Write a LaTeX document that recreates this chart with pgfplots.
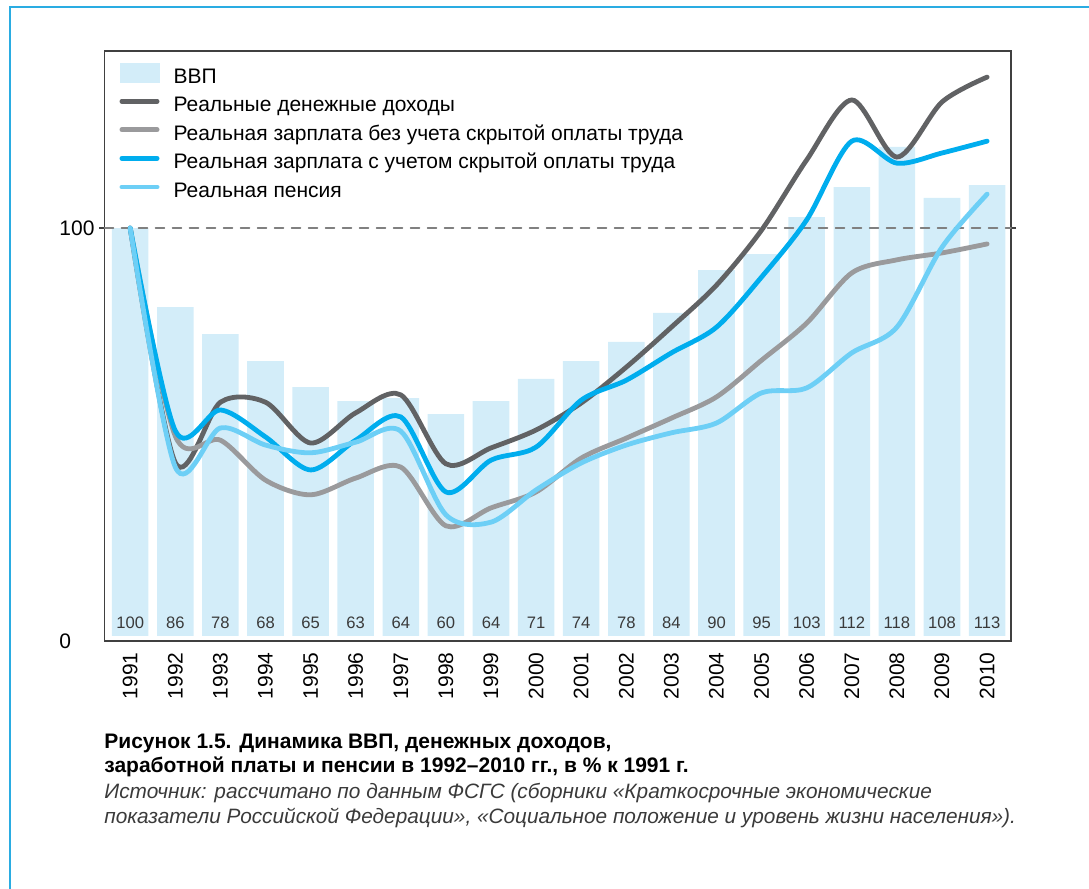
\documentclass[border=0pt]{standalone}
\usepackage{fontspec}
\setmainfont{Liberation Sans}
\usepackage{pgfplots}
\pgfplotsset{compat=1.18}
\usepackage{pgfplotstable}

\definecolor{barblue}{HTML}{D3EDF9}
\definecolor{cdark}{HTML}{616264}
\definecolor{cmid}{HTML}{9A9A9C}
\definecolor{cblue}{HTML}{00ADEE}
\definecolor{clight}{HTML}{6DCFF6}
\definecolor{frameblue}{HTML}{2AACE2}
\definecolor{axgray}{HTML}{404040}
\definecolor{labgray}{HTML}{3A3A3A}

% bar = drawn height, lab = printed value
\pgfplotstableread{
idx lab bar   dark  mid   blue  light
0   100 100   100   100   100   100
1   86  80.6  42.5  49.0  50.3  41.4
2   78  74.0  57.3  48.0  55.4  51.0
3   68  67.4  57.3  38.2  48.8  46.8
4   65  61.0  47.3  34.6  40.7  44.9
5   63  57.6  54.7  38.7  48.0  47.5
6   64  58.3  59.1  41.4  53.7  50.2
7   60  54.4  42.2  27.0  35.3  29.7
8   64  57.6  46.1  31.4  43.1  27.9
9   71  63.0  50.5  35.3  46.3  35.8
10  74  67.4  57.1  43.6  57.8  42.4
11  78  72.1  65.9  48.5  62.7  46.8
12  84  79.2  75.7  53.4  69.4  49.8
13  90  89.7  86.0  58.6  75.7  52.2
14  95  93.6  99.5  67.6  88.0  59.6
15  103 102.7 116.7 76.7  102.0 60.8
16  112 110.0 131.4 89.0  121.3 69.4
17  118 119.9 117.4 92.2  115.9 75.7
18  108 107.4 130.9 93.9  118.4 95.3
19  113 110.5 137.0 96.1  121.3 108.3
}\datatable

\begin{document}
\begin{tikzpicture}[x=0.5pt,y=0.5pt]
\useasboundingbox (0,0) rectangle (1089,889);
\draw[frameblue, line width=0.8pt] (10,0) -- (10,882) -- (1089,882);

\begin{axis}[
    at={(52.25pt,124pt)}, anchor=south west,
    width=453.25pt, height=295pt, scale only axis,
    xmin=-0.57, xmax=19.53,
    ymin=-1.23, ymax=143.4,
    axis line style={draw=axgray, line width=0.75pt},
    xtick={0,...,19},
    xticklabels={1991,1992,1993,1994,1995,1996,1997,1998,1999,2000,
                 2001,2002,2003,2004,2005,2006,2007,2008,2009,2010},
    xtick style={draw=none},
    xticklabel style={rotate=90, anchor=east, inner xsep=5.5pt, inner ysep=0pt,
                      font=\fontsize{10.5}{12}\selectfont},
    ytick={100}, yticklabels={100},
    ytick align=outside,
    ytick style={draw=axgray, line width=0.6pt},
    major tick length=2.5pt,
    extra y ticks={-1.23}, extra y tick labels={0},
    extra y tick style={major tick length=0pt, yticklabel style={xshift=-2.5pt}},
    yticklabel style={anchor=east, text width=17.6pt, align=left, inner sep=0pt,
                      xshift=-2.2pt, font=\fontsize{10.5}{12}\selectfont},
    legend cell align=left,
    legend style={at={(0,1)}, anchor=north west, xshift=6.1pt, yshift=-5.6pt,
                  draw=none, fill=none, inner sep=0pt, row sep=3.9pt,
                  font=\fontsize{10.5}{12.6}\selectfont,
                  nodes={inner ysep=0pt, text height=7.8pt, text depth=2.6pt}},
    clip=false,
]
\addplot[ybar, bar width=0.81, fill=barblue, draw=none,
    legend image code/.code={\fill[barblue] (0pt,-2.3pt) rectangle (20pt,7.7pt);
                             \path (23.8pt,0pt);}]
    table[x=idx, y=bar] {\datatable};
\addlegendentry{ВВП}

\addplot[forget plot, draw=none, mark=none, nodes near coords,
    point meta=explicit symbolic,
    every node near coord/.append style={anchor=center, text=labgray,
        font=\fontsize{8.3}{9}\selectfont}]
    table[x=idx, y expr=3.2, meta=lab] {\datatable};

\addplot[forget plot, draw=gray, line width=0.75pt, dash pattern=on 4.5pt off 4pt]
    coordinates {(-0.57,100) (19.53,100)};

\pgfplotsset{every axis plot/.append style={smooth, line width=2.4pt, line cap=round,
    legend image code/.code={\draw[##1, line cap=round] (1.2pt,2.7pt) -- (18.8pt,2.7pt);
                             \path (0pt,2.7pt) (23.8pt,2.7pt);}}}
\addplot[cdark] table[x=idx, y=dark] {\datatable};
\addlegendentry{Реальные денежные доходы}
\addplot[cmid] table[x=idx, y=mid] {\datatable};
\addlegendentry{Реальная зарплата без учета скрытой оплаты труда}
\addplot[cblue] table[x=idx, y=blue] {\datatable};
\addlegendentry{Реальная зарплата с учетом скрытой оплаты труда}
\addplot[clight] table[x=idx, y=light] {\datatable};
\addlegendentry{Реальная пенсия}
\end{axis}

\node[anchor=base west, inner sep=0pt, font=\bfseries\fontsize{10.5}{13}\selectfont]
    at (104,140) {Рисунок 1.5. Динамика ВВП, денежных доходов,};
\node[anchor=base west, inner sep=0pt, font=\bfseries\fontsize{10.5}{13}\selectfont]
    at (104,116) {заработной платы и пенсии в 1992–2010 гг., в \% к 1991 г.};
\node[anchor=base west, inner sep=0pt, text=labgray, font=\itshape\fontsize{10.4}{13}\selectfont]
    at (104,90) {Источник: рассчитано по данным ФСГС (сборники «Краткосрочные экономические};
\node[anchor=base west, inner sep=0pt, text=labgray, font=\itshape\fontsize{10.4}{13}\selectfont]
    at (104,65) {показатели Российской Федерации», «Социальное положение и уровень жизни населения»).};
\end{tikzpicture}
\end{document}
